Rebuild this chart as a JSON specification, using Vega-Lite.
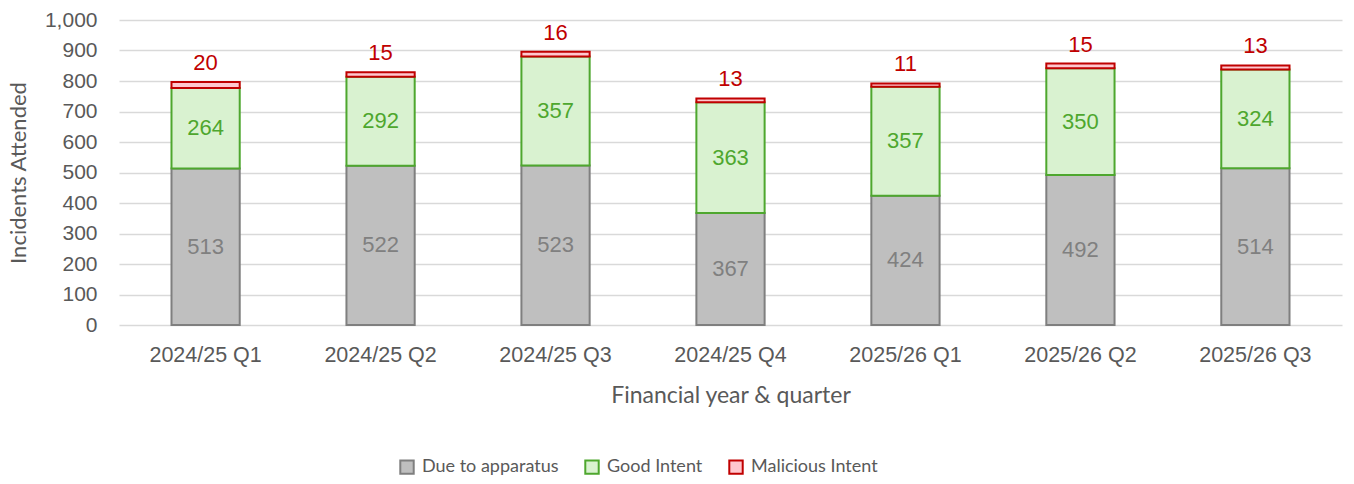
{
  "$schema": "https://vega.github.io/schema/vega-lite/v6.json",
  "autosize": {"type": "none"},
  "width": 1223,
  "height": 305,
  "padding": {"left": 119, "top": 20, "right": 12, "bottom": 159},
  "background": "white",
  "config": {
    "view": {"stroke": null},
    "font": "Liberation Sans",
    "axisY": {
      "titleFont": "Lato",
      "titleFontSize": 22,
      "titleFontWeight": "normal",
      "titleColor": "#595959",
      "titlePadding": 14,
      "labelOverlap": false,
      "labelFontSize": 21,
      "labelColor": "#595959",
      "labelPadding": 22,
      "ticks": false,
      "domain": false,
      "grid": true,
      "gridColor": "#d9d9d9",
      "gridWidth": 1.5
    }
  },
  "data": {
    "values": [
      {"quarter": "2024/25 Q1", "category": "Due to apparatus", "order": 1, "value": 513},
      {"quarter": "2024/25 Q1", "category": "Good Intent", "order": 2, "value": 264},
      {"quarter": "2024/25 Q1", "category": "Malicious Intent", "order": 3, "value": 20},
      {"quarter": "2024/25 Q2", "category": "Due to apparatus", "order": 1, "value": 522},
      {"quarter": "2024/25 Q2", "category": "Good Intent", "order": 2, "value": 292},
      {"quarter": "2024/25 Q2", "category": "Malicious Intent", "order": 3, "value": 15},
      {"quarter": "2024/25 Q3", "category": "Due to apparatus", "order": 1, "value": 523},
      {"quarter": "2024/25 Q3", "category": "Good Intent", "order": 2, "value": 357},
      {"quarter": "2024/25 Q3", "category": "Malicious Intent", "order": 3, "value": 16},
      {"quarter": "2024/25 Q4", "category": "Due to apparatus", "order": 1, "value": 367},
      {"quarter": "2024/25 Q4", "category": "Good Intent", "order": 2, "value": 363},
      {"quarter": "2024/25 Q4", "category": "Malicious Intent", "order": 3, "value": 13},
      {"quarter": "2025/26 Q1", "category": "Due to apparatus", "order": 1, "value": 424},
      {"quarter": "2025/26 Q1", "category": "Good Intent", "order": 2, "value": 357},
      {"quarter": "2025/26 Q1", "category": "Malicious Intent", "order": 3, "value": 11},
      {"quarter": "2025/26 Q2", "category": "Due to apparatus", "order": 1, "value": 492},
      {"quarter": "2025/26 Q2", "category": "Good Intent", "order": 2, "value": 350},
      {"quarter": "2025/26 Q2", "category": "Malicious Intent", "order": 3, "value": 15},
      {"quarter": "2025/26 Q3", "category": "Due to apparatus", "order": 1, "value": 514},
      {"quarter": "2025/26 Q3", "category": "Good Intent", "order": 2, "value": 324},
      {"quarter": "2025/26 Q3", "category": "Malicious Intent", "order": 3, "value": 13}
    ]
  },
  "transform": [
    {"stack": "value", "groupby": ["quarter"], "sort": [{"field": "order", "order": "ascending"}], "as": ["y0", "y1"]},
    {"calculate": "(datum.y0 + datum.y1) / 2", "as": "ymid"}
  ],
  "encoding": {
    "x": {
      "field": "quarter",
      "type": "nominal",
      "sort": null,
      "scale": {"paddingInner": 0.61, "paddingOuter": 0.3},
      "axis": {
        "title": "Financial year & quarter",
        "titleFont": "Lato",
        "titleFontSize": 23,
        "titleFontWeight": "normal",
        "titleColor": "#595959",
        "titlePadding": 19,
        "labelFontSize": 21.5,
        "labelColor": "#595959",
        "labelPadding": 19,
        "labelAngle": 0,
        "ticks": false,
        "domain": false,
        "grid": false
      }
    }
  },
  "layer": [
    {
      "mark": {"type": "bar", "strokeWidth": 2},
      "encoding": {
        "y": {
          "field": "y0",
          "type": "quantitative",
          "scale": {"domain": [0, 1000]},
          "axis": {"title": "Incidents Attended", "values": [0, 100, 200, 300, 400, 500, 600, 700, 800, 900, 1000], "format": ",d"}
        },
        "y2": {"field": "y1"},
        "fill": {
          "field": "category",
          "type": "nominal",
          "scale": {"domain": ["Due to apparatus", "Good Intent", "Malicious Intent"], "range": ["#bfbfbf", "#d9f2d0", "#ffc7ce"]},
          "legend": {
            "orient": "none",
            "legendX": 279,
            "legendY": 438,
            "direction": "horizontal",
            "title": null,
            "labelFont": "Lato",
            "labelFontSize": 18,
            "labelColor": "#595959",
            "symbolType": "square",
            "symbolSize": 180,
            "symbolStrokeWidth": 2,
            "columnPadding": 22,
            "labelOffset": 6
          }
        },
        "stroke": {
          "field": "category",
          "type": "nominal",
          "scale": {"domain": ["Due to apparatus", "Good Intent", "Malicious Intent"], "range": ["#7f7f7f", "#4ea72e", "#c00000"]},
          "legend": {
            "orient": "none",
            "legendX": 279,
            "legendY": 438,
            "direction": "horizontal",
            "title": null,
            "labelFont": "Lato",
            "labelFontSize": 18,
            "labelColor": "#595959",
            "symbolType": "square",
            "symbolSize": 180,
            "symbolStrokeWidth": 2,
            "columnPadding": 22,
            "labelOffset": 6
          }
        }
      }
    },
    {
      "transform": [{"filter": "datum.order == 1"}],
      "mark": {"type": "text", "fontSize": 22, "color": "#808080", "baseline": "middle"},
      "encoding": {
        "y": {"field": "ymid", "type": "quantitative", "axis": {"title": "Incidents Attended", "values": [0, 100, 200, 300, 400, 500, 600, 700, 800, 900, 1000], "format": ",d"}},
        "text": {"field": "value", "type": "quantitative"}
      }
    },
    {
      "transform": [{"filter": "datum.order == 2"}],
      "mark": {"type": "text", "fontSize": 22, "color": "#4ea72e", "baseline": "middle"},
      "encoding": {
        "y": {"field": "ymid", "type": "quantitative", "axis": {"title": "Incidents Attended", "values": [0, 100, 200, 300, 400, 500, 600, 700, 800, 900, 1000], "format": ",d"}},
        "text": {"field": "value", "type": "quantitative"}
      }
    },
    {
      "transform": [{"filter": "datum.order == 3"}],
      "mark": {"type": "text", "fontSize": 22, "color": "#c00000", "baseline": "alphabetic", "dy": -12},
      "encoding": {
        "y": {"field": "y1", "type": "quantitative", "axis": {"title": "Incidents Attended", "values": [0, 100, 200, 300, 400, 500, 600, 700, 800, 900, 1000], "format": ",d"}},
        "text": {"field": "value", "type": "quantitative"}
      }
    }
  ]
}
